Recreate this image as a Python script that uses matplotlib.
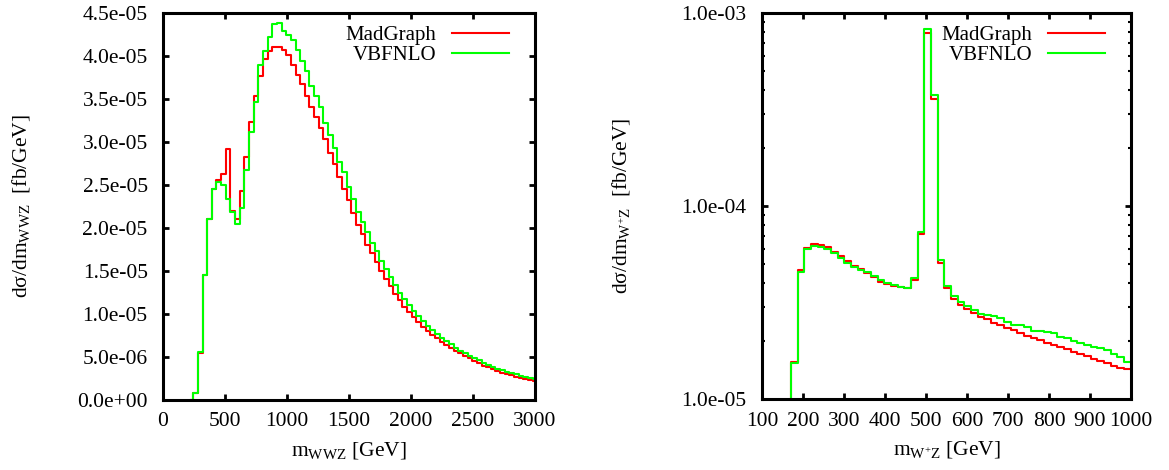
import numpy as np
import matplotlib
matplotlib.use('Agg')
import matplotlib.pyplot as plt
from matplotlib.ticker import MultipleLocator, FixedLocator, LogLocator, FuncFormatter, NullFormatter

plt.rcParams['font.family'] = 'Liberation Serif'
plt.rcParams['mathtext.fontset'] = 'custom'
plt.rcParams['mathtext.rm'] = 'Liberation Serif'
plt.rcParams['mathtext.it'] = 'Liberation Serif:italic'

# m_WWZ histogram, bin width 37.5 GeV, values in 1e-5 fb/GeV
wwz_width = 37.5
wwz_centers = np.arange(225.0, 3000.0 + 1, wwz_width)
wwz_madgraph = [0.0, 0.08, 0.55, 1.45, 2.10, 2.45, 2.56, 2.63, 2.92, 2.20,
                2.10, 2.425, 2.83, 3.23, 3.53, 3.77, 3.96, 4.06, 4.11, 4.11,
                4.07, 4.01, 3.90, 3.78, 3.67, 3.53, 3.41, 3.29, 3.16, 3.03,
                2.87, 2.75, 2.59, 2.45, 2.33, 2.17, 2.04, 1.93, 1.80, 1.71,
                1.60, 1.505, 1.41, 1.32, 1.234, 1.164, 1.086, 1.024, 0.962, 0.904,
                0.854, 0.803, 0.757, 0.718, 0.679, 0.64, 0.609, 0.574, 0.543, 0.512,
                0.485, 0.455, 0.428, 0.40, 0.38, 0.358, 0.338, 0.318, 0.30, 0.285,
                0.27, 0.257, 0.245, 0.233, 0.225]
wwz_vbfnlo = [0.0, 0.08, 0.56, 1.455, 2.107, 2.456, 2.54, 2.495, 2.34, 2.185,
              2.05, 2.23, 2.67, 3.116, 3.466, 3.89, 4.055, 4.22, 4.377, 4.385,
              4.29, 4.24, 4.19, 4.075, 3.94, 3.82, 3.655, 3.53, 3.41, 3.22,
              3.085, 2.93, 2.77, 2.646, 2.48, 2.34, 2.19, 2.075, 1.95, 1.83,
              1.727, 1.62, 1.52, 1.43, 1.34, 1.25, 1.17, 1.10, 1.036, 0.978,
              0.92, 0.865, 0.815, 0.764, 0.725, 0.687, 0.648, 0.609, 0.575, 0.545,
              0.515, 0.488, 0.46, 0.432, 0.41, 0.388, 0.365, 0.345, 0.328, 0.31,
              0.298, 0.283, 0.27, 0.258, 0.248]

# m_W+Z histogram, bin width 16.25 GeV, values in 1e-5 fb/GeV
wz_width = 16.25
wz_centers = np.arange(10, 63) * wz_width
wz_madgraph = [0.5, 1.55, 4.66, 6.04, 6.36, 6.28, 6.11, 5.8, 5.5, 5.19,
               4.91, 4.71, 4.48, 4.3, 4.05, 3.95, 3.85, 3.79, 3.76, 4.14,
               7.13, 78.5, 35.7, 5.05, 3.745, 3.285, 3.07, 2.915, 2.80, 2.67,
               2.588, 2.486, 2.417, 2.342, 2.278, 2.189, 2.12, 2.078, 2.021, 1.958,
               1.905, 1.866, 1.808, 1.759, 1.711, 1.671, 1.612, 1.574, 1.530, 1.488,
               1.453, 1.424, 1.41]
wz_vbfnlo = [0.5, 1.53, 4.57, 5.965, 6.2, 6.11, 5.97, 5.69, 5.4, 5.05,
             4.85, 4.66, 4.57, 4.34, 4.14, 3.98, 3.9, 3.82, 3.78, 4.22,
             7.31, 82.3, 37.6, 5.25, 3.85, 3.42, 3.19, 3.03, 2.89, 2.746,
             2.724, 2.692, 2.618, 2.515, 2.417, 2.417, 2.37, 2.25, 2.25, 2.233,
             2.189, 2.103, 2.062, 2.006, 1.943, 1.905, 1.866, 1.83, 1.794, 1.711,
             1.657, 1.56, 1.55]

labels = ['MadGraph', 'VBFNLO']
colors = ['#ff0000', '#00ff00']
FS = 15.5

fig = plt.figure(figsize=(11.69, 4.70), dpi=100)
ax1 = fig.add_axes([163 / 1169, 70 / 470, 372 / 1169, 387 / 470])
ax2 = fig.add_axes([762 / 1169, 71 / 470, 369 / 1169, 386 / 470])


def style_axes(ax):
    for s in ax.spines.values():
        s.set_linewidth(2.2)
    ax.tick_params(which='major', direction='in', length=4.5, width=2.0,
                   top=True, right=True, labelsize=FS)
    ax.tick_params(which='minor', direction='in', length=2.5, width=1.5,
                   top=True, right=True)
    ax.tick_params(axis='y', pad=11)
    ax.tick_params(axis='x', pad=9)


sci = FuncFormatter(lambda v, p: '%.1e' % v)

# left panel
ax1.step(wwz_centers, np.array(wwz_madgraph) * 1e-5, where='mid', color=colors[0], lw=1.5, label=labels[0])
ax1.step(wwz_centers, np.array(wwz_vbfnlo) * 1e-5, where='mid', color=colors[1], lw=1.5, label=labels[1])
ax1.set_xlim(0, 3000)
ax1.set_ylim(0, 4.5e-5)
ax1.xaxis.set_major_locator(MultipleLocator(500))
ax1.yaxis.set_major_locator(MultipleLocator(5e-6))
ax1.yaxis.set_major_formatter(sci)
ax1.set_xlabel(r'm$_{\rm WWZ}$ [GeV]', fontsize=FS)
ax1.set_ylabel(r'dσ/dm$_{\rm WWZ}$  [fb/GeV]', fontsize=FS)
ax1.yaxis.set_label_coords(-0.353, 0.5)
ax1.xaxis.set_label_coords(0.5, -0.103)
style_axes(ax1)

# right panel
ax2.step(wz_centers, np.array(wz_madgraph) * 1e-5, where='mid', color=colors[0], lw=1.5, label=labels[0])
ax2.step(wz_centers, np.array(wz_vbfnlo) * 1e-5, where='mid', color=colors[1], lw=1.5, label=labels[1])
ax2.set_yscale('log')
ax2.set_xlim(100, 1000)
ax2.set_ylim(1e-5, 1e-3)
ax2.xaxis.set_major_locator(MultipleLocator(100))
ax2.yaxis.set_major_locator(FixedLocator([1e-5, 1e-4, 1e-3]))
ax2.yaxis.set_major_formatter(sci)
ax2.yaxis.set_minor_locator(LogLocator(base=10, subs=np.arange(2, 10)))
ax2.yaxis.set_minor_formatter(NullFormatter())
ax2.set_xlabel(r'm$_{\rm W^{+}Z}$ [GeV]', fontsize=FS)
ax2.set_ylabel(r'dσ/dm$_{\rm W^{+}Z}$  [fb/GeV]', fontsize=FS)
ax2.yaxis.set_label_coords(-0.353, 0.5)
ax2.xaxis.set_label_coords(0.5, -0.103)
style_axes(ax2)

for ax in (ax1, ax2):
    ax.legend(loc='upper right', bbox_to_anchor=(0.968, 1.005), frameon=False,
              markerfirst=False, fontsize=15, handlelength=2.7,
              handletextpad=0.75, labelspacing=0.0, borderpad=0.2)

fig.savefig('out.png', dpi=100)
